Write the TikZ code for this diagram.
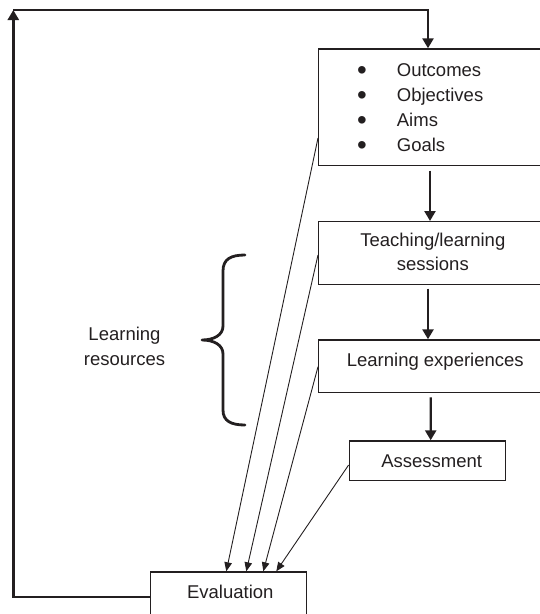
\documentclass[tikz,border=0pt]{standalone}
\usepackage{fontspec}
\setmainfont{Liberation Sans}
\usetikzlibrary{arrows.meta}
\definecolor{ink}{HTML}{231F20}
\newcommand{\bigbullet}{\raisebox{-3.9pt}{\scalebox{1.5}{\textbullet}}}
\begin{document}
\begin{tikzpicture}[x=1pt,y=-1pt,
  box/.style={draw=ink, line width=1.4pt, rectangle, inner sep=0pt},
  txt/.style={text=ink, font=\fontsize{18.5}{22}\selectfont, inner sep=0pt},
  flow/.style={draw=ink, line width=2.4pt, -{Triangle[width=11pt,length=10pt]}},
  thin/.style={draw=ink, line width=0.9pt, -{Triangle[width=7.5pt,length=9pt]}},
  bracestroke/.style={draw=ink, line width=2.8pt, line cap=round, line join=round}]
\useasboundingbox (0,0) rectangle (539,614);

% boxes
\node[box, minimum width=231.3pt, minimum height=116.7pt] (goals)   at (434.35,107.35) {};
\node[box, minimum width=231.3pt, minimum height=62.6pt]  (teach)   at (434.35,253) {};
\node[box, minimum width=231.3pt, minimum height=52.7pt]  (exper)   at (434.35,366.35) {};
\node[box, minimum width=156.4pt, minimum height=39.7pt]  (assess)  at (427.5,460.85) {};
\node[box, minimum width=156pt,   minimum height=49.4pt]  (evalbox) at (228.7,596.7) {};

% box texts
\node[txt, anchor=base west] (l1) at (358.1,76)  {\makebox[7.2pt]{\bigbullet}\hspace{31.4pt}Outcomes};
\node[txt, anchor=base west] (l2) at (358.1,101) {\makebox[7.2pt]{\bigbullet}\hspace{31.4pt}Objectives};
\node[txt, anchor=base west] (l3) at (358.1,126) {\makebox[7.2pt]{\bigbullet}\hspace{31.4pt}Aims};
\node[txt, anchor=base west] (l4) at (358.1,151) {\makebox[7.2pt]{\bigbullet}\hspace{31.4pt}Goals};
\node[txt, anchor=base] (t1) at (432.8,246.7) {Teaching/learning};
\node[txt, anchor=base] (t2) at (432.8,270.7) {sessions};
\node[txt, anchor=base] (e1) at (435.3,366) {Learning experiences};
\node[txt, anchor=base] (a1) at (431.7,467) {Assessment};
\node[txt, anchor=base] (v1) at (230.3,598.3) {Evaluation};
\node[txt, anchor=base] (r1) at (124.5,340) {Learning};
\node[txt, anchor=base] (r2) at (124.5,365) {resources};

% brace grouping the learning resources
\draw[bracestroke] (245,255) .. controls (231,255) and (223,259) .. (223,271)
  -- (223,326) .. controls (223,335) and (214,340) .. (202,340)
  .. controls (214,340) and (223,345) .. (223,354)
  -- (223,410) .. controls (223,421) and (231,425) .. (245,425);

% main sequence
\draw[flow] ([xshift=-4.35pt,yshift=-4.3pt]goals.south) -- ([xshift=-4.35pt]teach.north);
\draw[flow] ([xshift=-6.35pt,yshift=-3.7pt]teach.south) -- ([xshift=-6.35pt]exper.north);
\draw[flow] ([xshift=-3.65pt,yshift=-4pt]exper.south) -- ([xshift=3.2pt]assess.north);

% feedback loop
\coordinate (corner) at (13.3,10);
\coordinate (turn) at (428,10);
\draw[flow] (evalbox.west) -| (corner);
\draw[flow] (corner) -- (turn) -- (turn |- goals.north);

% links into evaluation
\draw[thin] ([yshift=-30.65pt]goals.west) -- ([xshift=76.3pt]evalbox.north west);
\draw[thin] ([yshift=-2pt]teach.west) -- ([xshift=96.3pt]evalbox.north west);
\draw[thin] ([yshift=-0.35pt]exper.west) -- ([xshift=113.3pt]evalbox.north west);
\draw[thin] ([yshift=-4.15pt]assess.west) -- ([xshift=126.3pt]evalbox.north west);
\end{tikzpicture}
\end{document}
